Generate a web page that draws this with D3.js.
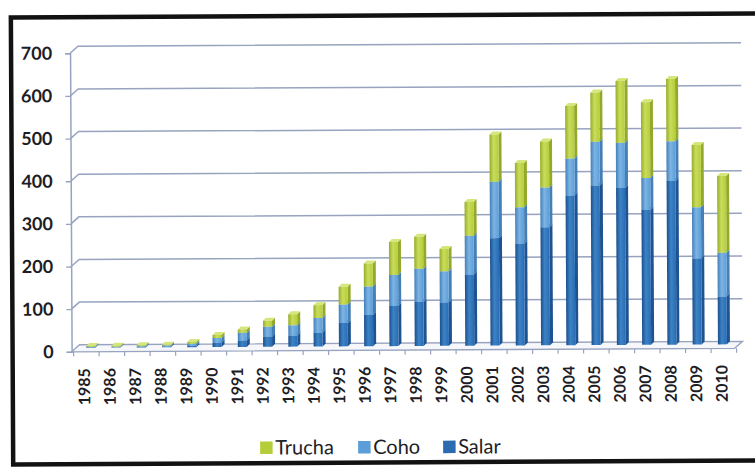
<!DOCTYPE html>
<html>
<head>
<meta charset="utf-8">
<script src="https://cdn.jsdelivr.net/npm/d3@7/dist/d3.min.js"></script>
<style>
  html, body { margin: 0; padding: 0; background: #ffffff; }
  svg { display: block; }
  text { font-family: Lato, "Open Sans", "Noto Sans", sans-serif; fill: #1d1d26; }
</style>
</head>
<body>
<svg id="chart" width="755" height="469"></svg>
<script>
// Harvest by species, 1985-2010 (stacked: Salar at the bottom, then Coho, then Trucha)
const years  = ["1985","1986","1987","1988","1989","1990","1991","1992","1993","1994","1995","1996","1997",
                "1998","1999","2000","2001","2002","2003","2004","2005","2006","2007","2008","2009","2010"];
const salar  = [1, 1, 1, 2, 3, 10, 15, 24, 26, 32, 55, 74, 94, 103, 102, 167, 252, 239, 277, 351, 374, 368, 316, 384, 202, 112];
const coho   = [1, 1, 2, 2, 5, 11, 18, 23, 24, 35, 43, 66, 73, 78, 73, 91, 132, 85, 93, 87, 103, 106, 75, 93, 120, 103];
const trucha = [2, 2, 2, 2, 4, 7, 8, 14, 26, 30, 42, 54, 77, 75, 52, 79, 111, 104, 108, 123, 115, 145, 178, 146, 146, 180];
const yTicks = [0, 100, 200, 300, 400, 500, 600, 700];
const stackKeys   = ["Salar", "Coho", "Trucha"];
const legendItems = ["Trucha", "Coho", "Salar"];

const palette = {
  Salar:  { base: "#2a6bb2", light: "#3c83c6", dark: "#1c4f8c", side: "#1e5391", top: "#5a97d0" },
  Coho:   { base: "#5b9ed8", light: "#7db4e4", dark: "#437fb8", side: "#457fb5", top: "#9cc6ea" },
  Trucha: { base: "#b6cd3a", light: "#cadc5c", dark: "#97ad2a", side: "#93a92a", top: "#d6e57c" }
};

const rows = years.map((yr, i) => ({ year: yr, Salar: salar[i], Coho: coho[i], Trucha: trucha[i] }));

const svg = d3.select("#chart");
const defs = svg.append("defs");
stackKeys.forEach(k => {
  const g = defs.append("linearGradient").attr("id", "grad-" + k)
    .attr("x1", "0").attr("x2", "1").attr("y1", "0").attr("y2", "0");
  g.append("stop").attr("offset", "0").attr("stop-color", palette[k].dark);
  g.append("stop").attr("offset", "0.45").attr("stop-color", palette[k].light);
  g.append("stop").attr("offset", "1").attr("stop-color", palette[k].base);
});

// whole figure sits very slightly rotated
const root = svg.append("g").attr("transform", "rotate(-0.3 377 234)");

// outer frame
root.append("rect")
  .attr("x", 12).attr("y", 15.5).attr("width", 780).attr("height", 447)
  .attr("fill", "none").attr("stroke", "#121212").attr("stroke-width", 4.5);

// scales: front plane (axis), bar plane (mid depth), back wall offset
const xFront = d3.scaleBand().domain(years).range([71, 734]);
const xBar   = d3.scaleBand().domain(years).range([79, 736]);
const y      = d3.scaleLinear().domain([0, 700]).range([350.2, 51.7]);
const wall   = { dx: 8, dy: -7 };
const barLift = 4;
const barFront = 9, barSide = 3, barTop = 3;
const gridColor = "#97a3bf";

const plot = root.append("g");

// floor
const y0 = y(0);
const fL = xFront.range()[0], fR = xFront.range()[1];
plot.append("path")
  .attr("d", `M${fL},${y0} L${fR},${y0} L${fR + wall.dx},${y0 + wall.dy} L${fL + wall.dx},${y0 + wall.dy} Z`)
  .attr("fill", "#f6f7fa").attr("stroke", gridColor).attr("stroke-width", 1.3);

// gridlines on the back wall with the side-wall connectors
plot.append("g").selectAll("path").data(yTicks.filter(v => v > 0)).join("path")
  .attr("d", v => `M${fL},${y(v)} L${fL + wall.dx},${y(v) + wall.dy} L${fR + wall.dx},${y(v) + wall.dy}`)
  .attr("fill", "none").attr("stroke", gridColor).attr("stroke-width", 1.5);

// y axis
const yAxis = plot.append("g").attr("transform", `translate(${fL},0)`)
  .call(d3.axisLeft(y).tickValues(yTicks).tickSize(5).tickPadding(13).tickFormat(d3.format("d")));
yAxis.select(".domain").attr("stroke", gridColor).attr("stroke-width", 1.5);
yAxis.selectAll(".tick line").attr("stroke", gridColor).attr("stroke-width", 1.3);
yAxis.selectAll(".tick text")
  .attr("font-size", 18).attr("font-weight", 700).attr("fill", "#1d1d26");

// x axis
const xAxis = plot.append("g").attr("transform", `translate(0,${y0})`)
  .call(d3.axisBottom(xFront).tickSize(0).tickPadding(0));
xAxis.select(".domain").remove();
xAxis.selectAll(".tick text")
  .attr("y", 0).attr("dy", null)
  .attr("text-anchor", "end").attr("dominant-baseline", "central")
  .attr("transform", "translate(-1,16.5) rotate(-90)")
  .attr("font-size", 16).attr("font-weight", 700).attr("fill", "#1d1d26");
// category separators on the floor edge
plot.append("g").selectAll("line").data(years.concat(["end"])).join("line")
  .attr("x1", (d, i) => fL + i * xFront.step() + 2).attr("x2", (d, i) => fL + i * xFront.step() + 2)
  .attr("y1", y0).attr("y2", y0 + 4.5)
  .attr("stroke", gridColor).attr("stroke-width", 1.2);

// stacked 3D columns
const stacked = d3.stack().keys(stackKeys)(rows);
const barsG = plot.append("g");
stacked.forEach(layer => {
  const k = layer.key;
  const g = barsG.append("g");
  layer.forEach(d => {
    const left = xBar(d.data.year) + xBar.bandwidth() / 2 - 6;
    const yt = y(d[1]) - barLift, yb = y(d[0]) - barLift;
    if (yb - yt <= 0) return;
    g.append("path")
      .attr("d", `M${left + barFront},${yt} L${left + barFront + barSide},${yt - barTop} L${left + barFront + barSide},${yb - barTop} L${left + barFront},${yb} Z`)
      .attr("fill", palette[k].side);
    g.append("path")
      .attr("d", `M${left},${yt} L${left + barSide},${yt - barTop} L${left + barFront + barSide},${yt - barTop} L${left + barFront},${yt} Z`)
      .attr("fill", palette[k].top);
    g.append("rect")
      .attr("x", left).attr("y", yt).attr("width", barFront).attr("height", yb - yt)
      .attr("fill", `url(#grad-${k})`);
  });
});

// legend
const legendX = { Trucha: 259, Coho: 357, Salar: 442 };
const legend = root.append("g");
legendItems.forEach(k => {
  const g = legend.append("g").attr("transform", `translate(${legendX[k]},0)`);
  g.append("rect").attr("x", 0).attr("y", 441).attr("width", 12.5).attr("height", 12.5)
    .attr("fill", palette[k].base);
  g.append("text").attr("x", 15).attr("y", 454).attr("font-size", 20).text(k);
});
</script>
</body>
</html>
